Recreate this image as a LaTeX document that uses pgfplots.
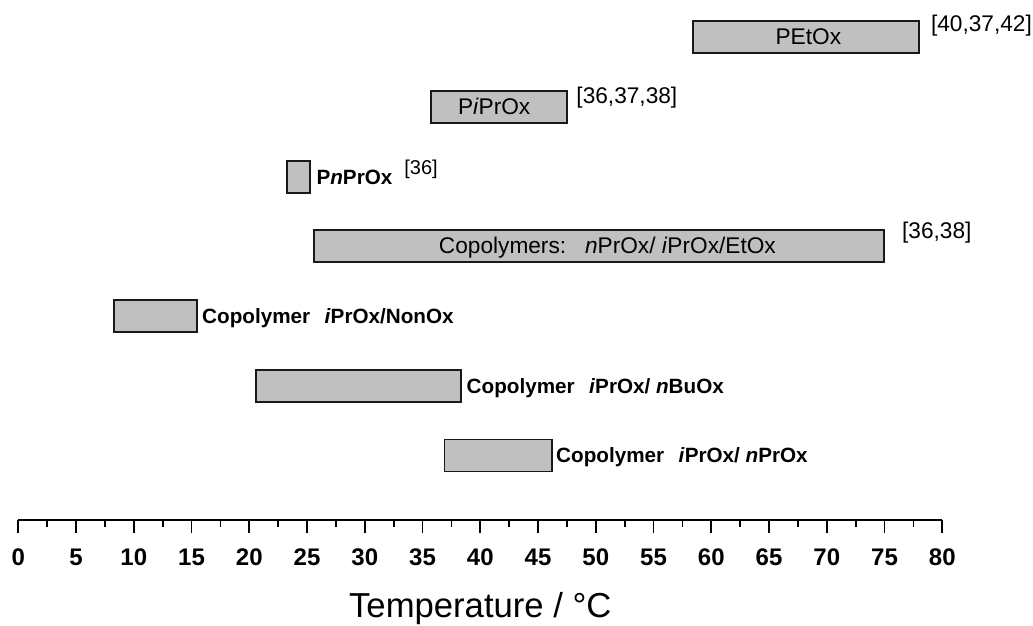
\documentclass[border=0pt]{standalone}
\usepackage{pgfplots}
\pgfplotsset{compat=1.18}
\usepackage{pgfplotstable}
\usepackage{fontspec}
\setmainfont{Liberation Sans}
\definecolor{barfill}{RGB}{192,192,192}
\newcommand\lbl{\fontsize{17}{20}\selectfont}
\newcommand\lblb{\fontsize{15.5}{19}\selectfont\bfseries}
\newcommand\rf{\fontsize{17}{20}\selectfont}
\begin{document}
\pgfplotstableread{
y start end
7 58.4 78.0
6 35.7 47.5
5 23.3 25.25
4 25.6 74.95
3 8.3 15.5
2 20.6 38.3
1 36.9 46.2
}\bars
\begin{tikzpicture}
\begin{axis}[
  scale only axis, width=693pt, height=388.1pt,
  xmin=0, xmax=80, ymin=0.075, ymax=7.5,
  axis x line=bottom, axis y line=none,
  x axis line style={-, line width=1.5pt},
  xtick={0,5,...,80}, minor x tick num=1,
  tick align=outside, major tick length=10pt, minor tick length=5pt,
  tick style={black, line width=1.3pt},
  /pgf/number format/assume math mode=true,
  typeset ticklabels with strut,
  xticklabel style={font=\fontsize{18}{21}\selectfont\bfseries, yshift=-6pt},
  xlabel={Temperature / °C},
  xlabel style={font=\fontsize{26}{29}\selectfont, at={(axis description cs:0.5,0)}, anchor=base, yshift=-73.5pt, inner sep=0pt},
  xbar stacked, bar width=24pt,
  clip=false,
]
\addplot[draw=none, fill=none] table[x=start, y=y] {\bars};
\addplot[fill=barfill, draw=black!90, line width=1.4pt] table[x expr=\thisrow{end}-\thisrow{start}, y=y] {\bars};

\coordinate (bl) at (axis cs:-1.584,-1.446);
\coordinate (tr) at (axis cs:87.85,7.535);
\coordinate (c1) at (axis cs:68.4,7);
\coordinate (r1) at (axis cs:79.0,7.16);
\coordinate (c2) at (axis cs:41.2,6);
\coordinate (r2) at (axis cs:48.3,6.13);
\coordinate (c3) at (axis cs:25.8,5);
\coordinate (r3) at (axis cs:33.4,5.10);
\coordinate (c4) at (axis cs:51.0,4);
\coordinate (r4) at (axis cs:76.5,4.20);
\coordinate (c5) at (axis cs:15.9,3);
\coordinate (c6) at (axis cs:38.8,2);
\coordinate (c7) at (axis cs:46.55,1);
\end{axis}
\tikzset{lb/.style={inner sep=0pt, yshift=-5.7pt}, lbb/.style={inner sep=0pt, yshift=-5.55pt, anchor=base west, font=\lblb}, rb/.style={inner sep=0pt, anchor=base west, yshift=-4.4pt, font=\rf}}
\node[lb, anchor=base, font=\lbl] at (c1) {PEtOx};
\node[rb] at (r1) {[40,37,42]};
\node[lb, anchor=base, font=\lbl] at (c2) {P\textit{i}PrOx};
\node[rb] at (r2) {[36,37,38]};
\node[lbb] at (c3) {P\textit{n}PrOx};
\node[inner sep=0pt, anchor=base west, yshift=-3.9pt, font=\fontsize{15}{17}\selectfont] at (r3) {[36]};
\node[lb, anchor=base, font=\lbl] at (c4) {Copolymers:\ \ \ \textit{n}PrOx/ \textit{i}PrOx/EtOx};
\node[rb] at (r4) {[36,38]};
\node[lbb] at (c5) {Copolymer\hspace{0.7em}\textit{i}PrOx/NonOx};
\node[lbb] at (c6) {Copolymer\hspace{0.7em}\textit{i}PrOx/ \textit{n}BuOx};
\node[lbb] at (c7) {Copolymer\hspace{0.7em}\textit{i}PrOx/ \textit{n}PrOx};
\pgfresetboundingbox
\path[use as bounding box] (bl) rectangle (tr);
\end{tikzpicture}
\end{document}
